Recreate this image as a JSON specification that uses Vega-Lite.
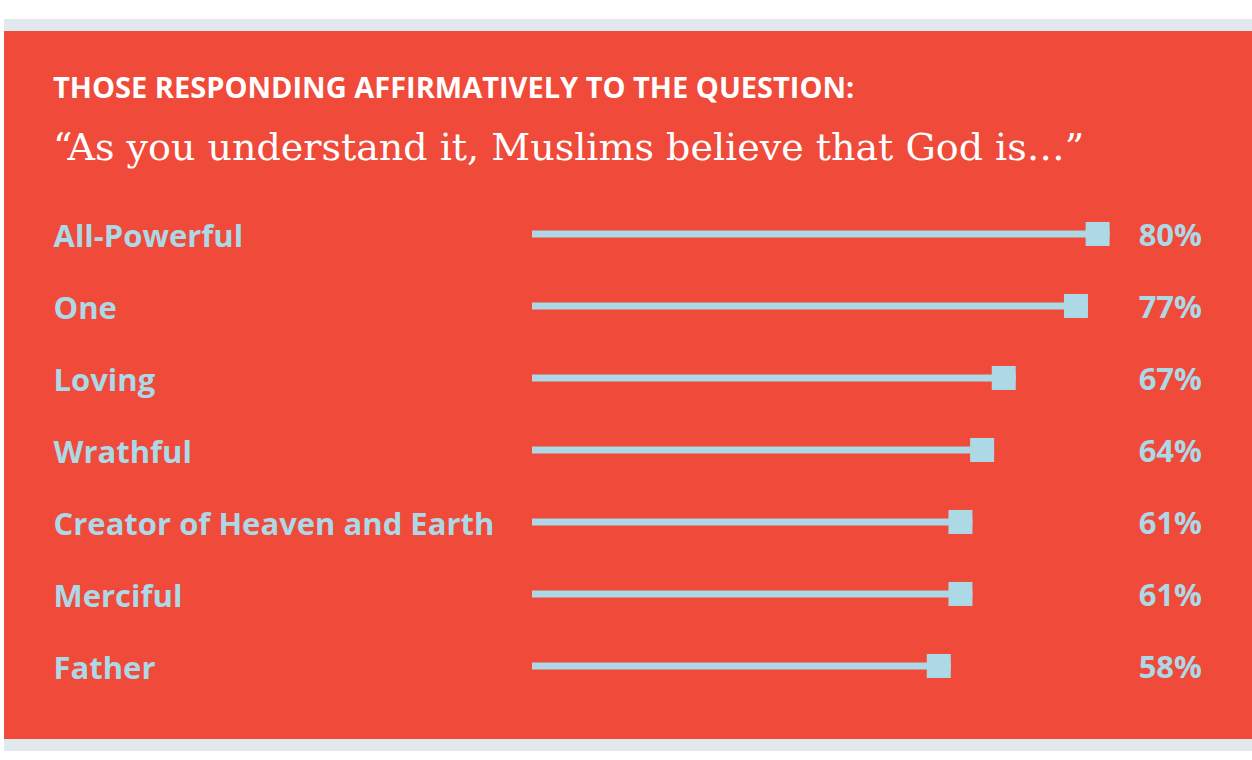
{
  "$schema": "https://vega.github.io/schema/vega-lite/v6.json",
  "width": 1248,
  "height": 720,
  "autosize": {"type": "none"},
  "padding": {"left": 4, "top": 25, "right": 0, "bottom": 15},
  "background": "white",
  "title": {
    "text": "THOSE RESPONDING AFFIRMATIVELY TO THE QUESTION:",
    "subtitle": "“As you understand it, Muslims believe that God is…”",
    "anchor": "start",
    "frame": "group",
    "orient": "top",
    "offset": -143,
    "dx": 49,
    "color": "white",
    "font": "Open Sans",
    "fontWeight": 700,
    "fontSize": 29,
    "subtitleFont": "DejaVu Serif",
    "subtitleFontSize": 38,
    "subtitleColor": "white",
    "subtitlePadding": 26
  },
  "data": {
    "values": [
      {"trait": "All-Powerful", "pct": 0.80},
      {"trait": "One", "pct": 0.77},
      {"trait": "Loving", "pct": 0.67},
      {"trait": "Wrathful", "pct": 0.64},
      {"trait": "Creator of Heaven and Earth", "pct": 0.61},
      {"trait": "Merciful", "pct": 0.61},
      {"trait": "Father", "pct": 0.58}
    ]
  },
  "encoding": {
    "y": {
      "field": "trait",
      "type": "nominal",
      "sort": null,
      "scale": {"type": "point", "range": [209, 641], "padding": 0},
      "axis": {
        "orient": "left",
        "offset": -49,
        "title": null,
        "ticks": false,
        "tickSize": 0,
        "domain": false,
        "grid": false,
        "labelAlign": "left",
        "labelBaseline": "middle",
        "labelPadding": 0,
        "labelLimit": 0,
        "labelOffset": 3,
        "labelFont": "Open Sans",
        "labelFontWeight": 700,
        "labelFontSize": 31,
        "labelColor": "#ADD8E6"
      }
    }
  },
  "layer": [
    {
      "mark": {"type": "rule", "color": "#ADD8E6", "strokeWidth": 7, "strokeCap": "butt"},
      "encoding": {
        "x": {"field": "pct", "type": "quantitative", "scale": {"domain": [-0.7313, 0.9972], "nice": false, "zero": false}, "axis": null},
        "x2": {"datum": 0}
      }
    },
    {
      "mark": {"type": "point", "shape": "square", "filled": true, "opacity": 1, "size": 576, "color": "#ADD8E6", "xOffset": -12},
      "encoding": {
        "x": {"field": "pct", "type": "quantitative"}
      }
    },
    {
      "mark": {"type": "text", "align": "right", "baseline": "middle", "dy": 3, "font": "Open Sans", "fontWeight": 700, "fontSize": 31, "color": "#ADD8E6"},
      "encoding": {
        "x": {"datum": 0.928, "type": "quantitative"},
        "text": {"field": "pct", "type": "quantitative", "format": ".0%"}
      }
    }
  ],
  "config": {
    "view": {
      "fill": "#F04A3A",
      "stroke": "#E1E9EF",
      "strokeWidth": 12,
      "strokeCap": "butt",
      "strokeDash": [1248, 720, 1248, 720]
    }
  }
}
